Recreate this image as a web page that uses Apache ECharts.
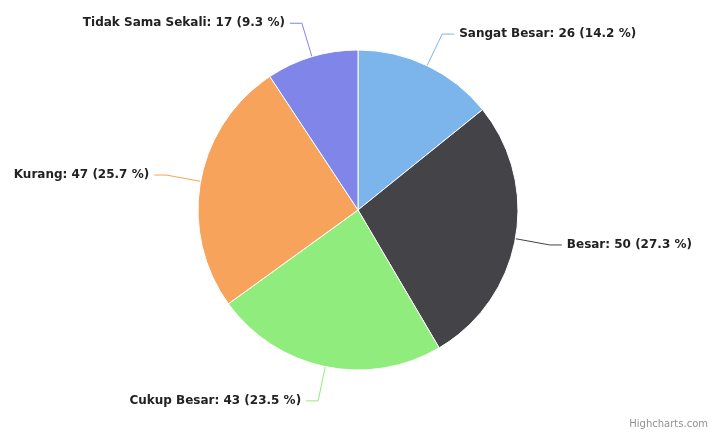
<!DOCTYPE html>
<html>
<head>
<meta charset="utf-8">
<script src="https://cdn.jsdelivr.net/npm/echarts@6/dist/echarts.min.js"></script>
<style>
html,body{margin:0;padding:0;background:#fff;}
#c{width:718px;height:435px;}
</style>
</head>
<body>
<div id="c"></div>
<script>
const categories = ["Sangat Besar", "Besar", "Cukup Besar", "Kurang", "Tidak Sama Sekali"];
const values = [26, 50, 43, 47, 17];
const colors = ["#7cb5ec", "#434348", "#90ed7d", "#f7a35c", "#8085e9"];

const total = values.reduce((a, b) => a + b, 0);
const chart = echarts.init(document.getElementById('c'), null, {renderer: 'canvas'});
chart.setOption({
  animation: false,
  backgroundColor: '#ffffff',
  color: colors,
  graphic: [{
    type: 'text',
    right: 10,
    bottom: 6,
    style: {text: 'Highcharts.com', fill: '#909090', font: '10px "DejaVu Sans", sans-serif'}
  }],
  series: [{
    type: 'pie',
    center: [358, 210],
    radius: 160,
    startAngle: 90,
    clockwise: true,
    avoidLabelOverlap: true,
    itemStyle: {borderColor: '#ffffff', borderWidth: 1},
    label: {
      show: true,
      position: 'outside',
      color: '#222',
      fontFamily: '"DejaVu Sans", Verdana, sans-serif',
      fontWeight: 'bold',
      fontSize: 12,
      formatter: p => p.name + ': ' + p.value + ' (' + (p.value / total * 100).toFixed(1) + ' %)'
    },
    labelLine: {show: true, length: 35, length2: 12, lineStyle: {width: 1}},
    emphasis: {disabled: true},
    data: categories.map((n, i) => ({name: n, value: values[i]}))
  }]
});
</script>
</body>
</html>
